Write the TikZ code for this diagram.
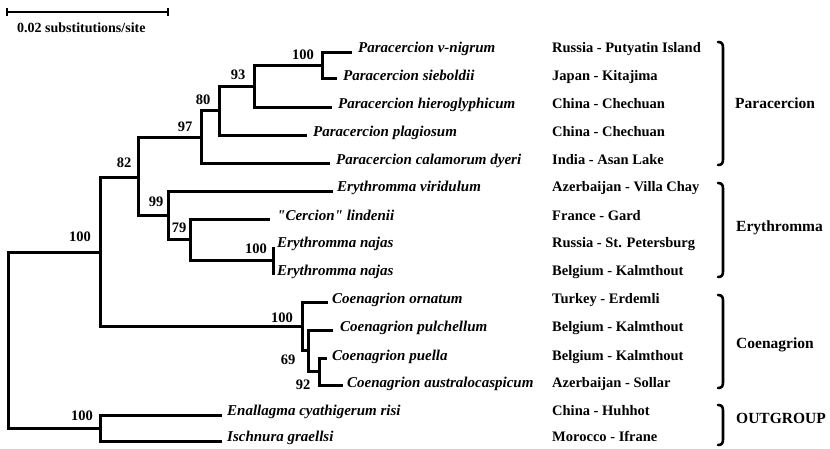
\documentclass[tikz,border=0pt]{standalone}
\usepackage{fontspec}
\setmainfont{Liberation Serif}
\newfontfamily\rawserif{Liberation Serif}[Ligatures=ResetAll]
\newcommand{\sqq}{{\rawserif\bfseries\itshape\symbol{34}}}
\begin{document}
\begin{tikzpicture}[x=1pt,y=-1pt,
  branch/.style={line width=3pt, line cap=butt, line join=miter},
  leaf/.style={anchor=west, inner sep=0pt, text height=10pt, text depth=3pt,
    font=\fontsize{15}{18}\selectfont\bfseries\itshape},
  place/.style={anchor=west, inner sep=0pt, text height=10pt, text depth=3pt,
    font=\fontsize{14.5}{17}\selectfont\bfseries},
  group/.style={anchor=west, inner sep=0pt, text height=10pt, text depth=3pt,
    font=\fontsize{15.5}{18}\selectfont\bfseries},
  support/.style={inner sep=0pt, font=\fontsize{14.5}{17}\selectfont\bfseries},
  bracket/.style={line width=2.6pt, line cap=round},
]
\useasboundingbox (0,0) rectangle (830,448);

% scale bar
\coordinate (s1) at (7,12);
\coordinate (s2) at (168,12);
\draw[line width=1.8pt] (s1) -- (s2);
\draw[line width=1.3pt] ([yshift=4pt]s1) -- ([yshift=-4pt]s1);
\draw[line width=1.3pt] ([yshift=4pt]s2) -- ([yshift=-4pt]s2);
\node[place, font=\fontsize{14}{16}\selectfont\bfseries] (scale) at (17,29) {0.02 substitutions/site};

% internal nodes
\coordinate (nR) at (8,340);
\coordinate (nH) at (100,252);
\coordinate (nO) at (100,428);
\coordinate (nE) at (138,177);
\coordinate (nJ) at (302,326.5);
\coordinate (nD) at (201,137);
\coordinate (nF) at (168,215.5);
\coordinate (nC) at (219,110.5);
\coordinate (nB) at (254,86);
\coordinate (nA) at (322,65);
\coordinate (nG) at (190,239.5);
\coordinate (nI) at (273,260.5);
\coordinate (nK) at (308,350.75);
\coordinate (nL) at (319,371.5);

% tips
\coordinate (t1) at (352,52);
\coordinate (t2) at (337,78);
\coordinate (t3) at (332,107);
\coordinate (t4) at (307,135);
\coordinate (t5) at (330,163);
\coordinate (t6) at (333,191);
\coordinate (t7) at (270,219);
\coordinate (t8) at (274.5,248);
\coordinate (t9) at (274.5,273);
\coordinate (t10) at (328,302);
\coordinate (t11) at (333,330);
\coordinate (t12) at (327,358);
\coordinate (t13) at (343,385);
\coordinate (t14) at (222,415);
\coordinate (t15) at (222,441);

% branches
\draw[branch] (nR) |- (nH);
\draw[branch] (nR) |- (nO);
\draw[branch] (nH) |- (nE);
\draw[branch] (nH) |- (nJ);
\draw[branch] (nE) |- (nD);
\draw[branch] (nE) |- (nF);
\draw[branch] (nD) |- (nC);
\draw[branch] (nD) |- (t5);
\draw[branch] (nC) |- (nB);
\draw[branch] (nC) |- (t4);
\draw[branch] (nB) |- (nA);
\draw[branch] (nB) |- (t3);
\draw[branch] (nA) |- (t1);
\draw[branch] (nA) |- (t2);
\draw[branch] (nF) |- (t6);
\draw[branch] (nF) |- (nG);
\draw[branch] (nG) |- (t7);
\draw[branch] (nG) |- (nI);
\draw[branch] (nI) |- (t8);
\draw[branch] (nI) |- (t9);
\draw[branch] (nJ) |- (t10);
\draw[branch] (nJ) |- (nK);
\draw[branch] (nK) |- (t11);
\draw[branch] (nK) |- (nL);
\draw[branch] (nL) |- (t12);
\draw[branch] (nL) |- (t13);
\draw[branch] (nO) |- (t14);
\draw[branch] (nO) |- (t15);

% support values
\node[support] (b1) at (303,55) {100};
\node[support] (b2) at (238,75) {93};
\node[support] (b3) at (203,100) {80};
\node[support] (b4) at (185,127) {97};
\node[support] (b5) at (124,163) {82};
\node[support] (b6) at (156,202) {99};
\node[support] (b7) at (179,228) {79};
\node[support] (b8) at (256,249) {100};
\node[support] (b9) at (80,237) {100};
\node[support] (b10) at (282,318) {100};
\node[support] (b11) at (288,360) {69};
\node[support] (b12) at (303,385) {92};
\node[support] (b13) at (82,416) {100};

% species
\node[leaf] (sp1) at (358,49) {Paracercion v-nigrum};
\node[leaf] (sp2) at (343,77) {Paracercion sieboldii};
\node[leaf] (sp3) at (338,105) {Paracercion hieroglyphicum};
\node[leaf] (sp4) at (313,133) {Paracercion plagiosum};
\node[leaf] (sp5) at (336,161) {Paracercion calamorum dyeri};
\node[leaf] (sp6) at (337,188) {Erythromma viridulum};
\node[leaf] (sp7) at (277,217) {\sqq Cercion\sqq{} lindenii};
\node[leaf] (sp8) at (277,244) {Erythromma najas};
\node[leaf] (sp9) at (277,272) {Erythromma najas};
\node[leaf] (sp10) at (332,300) {Coenagrion ornatum};
\node[leaf] (sp11) at (340,328) {Coenagrion pulchellum};
\node[leaf] (sp12) at (332,357) {Coenagrion puella};
\node[leaf] (sp13) at (347,384) {Coenagrion australocaspicum};
\node[leaf] (sp14) at (227,412) {Enallagma cyathigerum risi};
\node[leaf] (sp15) at (227,438) {Ischnura graellsi};

% localities
\node[place] (lo1) at (552,49) {Russia - Putyatin Island};
\node[place] (lo2) at (552,77) {Japan - Kitajima};
\node[place] (lo3) at (552,105) {China - Chechuan};
\node[place] (lo4) at (552,133) {China - Chechuan};
\node[place] (lo5) at (552,161) {India - Asan Lake};
\node[place] (lo6) at (552,188) {Azerbaijan - Villa Chay};
\node[place] (lo7) at (552,217) {France - Gard};
\node[place] (lo8) at (552,244) {Russia - St. Petersburg};
\node[place] (lo9) at (552,272) {Belgium - Kalmthout};
\node[place] (lo10) at (552,300) {Turkey - Erdemli};
\node[place] (lo11) at (552,328) {Belgium - Kalmthout};
\node[place] (lo12) at (552,357) {Belgium - Kalmthout};
\node[place] (lo13) at (552,384) {Azerbaijan - Sollar};
\node[place] (lo14) at (552,412) {China - Huhhot};
\node[place] (lo15) at (552,438) {Morocco - Ifrane};

% brackets
\draw[bracket] (718,42) .. controls (722,42) and (723,44) .. (723,48) -- (723,159) .. controls (723,163) and (722,165) .. (718,165);
\draw[bracket] (718,183) .. controls (722,183) and (723,185) .. (723,189) -- (723,271) .. controls (723,275) and (722,277) .. (718,277);
\draw[bracket] (718,295) .. controls (722,295) and (723,297) .. (723,301) -- (723,382) .. controls (723,386) and (722,388) .. (718,388);
\draw[bracket] (718,405) .. controls (722,405) and (723,407) .. (723,411) -- (723,439) .. controls (723,443) and (722,445) .. (718,445);

% group labels
\node[group] (g1) at (735,105) {Paracercion};
\node[group] (g2) at (736,228) {Erythromma};
\node[group] (g3) at (736,345) {Coenagrion};
\node[group] (g4) at (736,420) {OUTGROUP};
\end{tikzpicture}
\end{document}
